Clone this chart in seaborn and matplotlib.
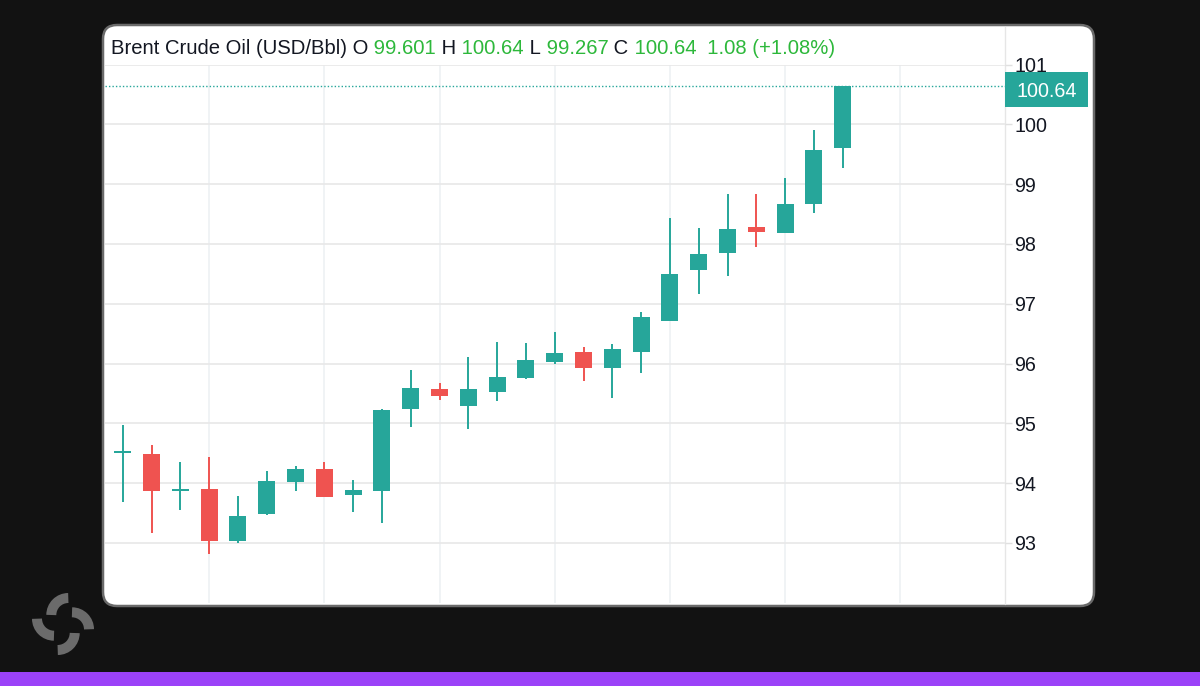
import matplotlib
matplotlib.use("Agg")
import matplotlib.pyplot as plt
import matplotlib.transforms as mtransforms
from matplotlib.patches import FancyBboxPatch, Rectangle, Arc
import numpy as np
import seaborn as sns

# ---------------- data ----------------
title_text = "Brent Crude Oil (USD/Bbl)"
opens = [94.50, 94.49, 93.87, 93.90, 93.03, 93.48, 94.02, 94.24, 93.80, 93.87,
         95.24, 95.57, 95.29, 95.53, 95.76, 96.03, 96.20, 95.92, 96.19, 96.71,
         97.56, 97.84, 98.28, 98.19, 98.67, 99.601]
highs = [94.97, 94.63, 94.35, 94.44, 93.78, 94.20, 94.28, 94.35, 94.05, 95.24,
         95.89, 95.67, 96.11, 96.36, 96.34, 96.52, 96.27, 96.32, 96.86, 98.44,
         98.26, 98.83, 98.83, 99.10, 99.91, 100.64]
lows = [93.69, 93.17, 93.55, 92.81, 92.99, 93.46, 93.87, 93.76, 93.52, 93.33,
        94.94, 95.39, 94.90, 95.37, 95.74, 96.00, 95.71, 95.42, 95.84, 96.71,
        97.16, 97.47, 97.94, 98.18, 98.51, 99.267]
closes = [94.53, 93.87, 93.90, 93.03, 93.45, 94.04, 94.24, 93.77, 93.88, 95.23,
          95.59, 95.46, 95.57, 95.77, 96.06, 96.18, 95.92, 96.25, 96.77, 97.49,
          97.83, 98.25, 98.20, 98.66, 99.57, 100.64]
y_ticks = [93, 94, 95, 96, 97, 98, 99, 100, 101]
last_change = "1.08"
last_change_pct = "(+1.08%)"

UP = "#26A69A"
DOWN = "#EF5350"
GREEN_TXT = "#2DB83B"
DARK_TXT = "#131722"

sns.set_theme(style="white")
plt.rcParams["font.family"] = ["Liberation Sans", "DejaVu Sans"]

fig = plt.figure(figsize=(12, 6.86), dpi=100, facecolor="#121212")

# ---------- background (pixel coords, y up) ----------
bg = fig.add_axes([0, 0, 1, 1], zorder=0)
bg.set_xlim(0, 1200)
bg.set_ylim(0, 686)
bg.axis("off")
bg.add_patch(Rectangle((0, 0), 1200, 14.5, color="#9B42F8", lw=0))
bg.add_patch(FancyBboxPatch((103, 80), 991, 581,
                            boxstyle="round,pad=0,rounding_size=14",
                            facecolor="white", edgecolor="#6a6a6a", lw=1.8))
bg.plot([1005, 1005], [82, 659], color="#E6E6E6", lw=1.0)

# logo: pinwheel of four thick arcs
cx, cy, r = 63, 62, 17
offs = [((5.3, 9), 90, 180), ((9, -5.3), 0, 90),
        ((-5.3, -9), 270, 360), ((-9, 5.3), 180, 270)]
for (dx, dy), t1, t2 in offs:
    bg.add_patch(Arc((cx + dx, cy + dy), 2 * r, 2 * r, theta1=t1, theta2=t2,
                     color="#6b6b6b", lw=7.2, capstyle="butt"))

# ---------- main chart ----------
ax = fig.add_axes([105 / 1200, 1 - 602.7 / 686, 900 / 1200, (602.7 - 64.5) / 686],
                  zorder=1)
ax.set_facecolor("none")
x = np.arange(len(opens))
o = np.array(opens); c = np.array(closes)
h = np.array(highs); l = np.array(lows)
cols = [UP if ci >= oi else DOWN for oi, ci in zip(o, c)]

ax.vlines(x, l, h, colors=cols, lw=1.4, zorder=2)
ax.bar(x, np.abs(c - o), bottom=np.minimum(o, c), width=0.59, color=cols,
       lw=0, zorder=3)

ax.set_xlim(-0.615, 30.635)
ax.set_ylim(92.0, 101.0)
ax.set_xticks(np.arange(3, 30, 4))
ax.set_yticks(y_ticks)
ax.set_yticklabels([str(v) for v in y_ticks])
ax.yaxis.tick_right()
ax.tick_params(axis="x", length=0, labelbottom=False)
ax.tick_params(axis="y", length=5, width=1, color="#E0E0E0", pad=1.5,
               labelsize=14.2, labelcolor=DARK_TXT, left=False, right=True)
ax.grid(axis="y", color="#E8E8E8", lw=1.2)
ax.grid(axis="x", color="#EEF1F4", lw=1.2)
ax.set_axisbelow(True)
for s in ax.spines.values():
    s.set_visible(False)

# last price line + label
last = closes[-1]
ax.axhline(last, color=UP, lw=1.0, ls=(0, (1, 1.5)), zorder=1)
tr = mtransforms.blended_transform_factory(ax.transAxes, ax.transData)
bw = 83 / 900
bh = 35 / 59.8
ax.add_patch(Rectangle((1.0, last - bh / 2 - 0.05), bw, bh, transform=tr,
                       color=UP, lw=0, clip_on=False, zorder=5))
ax.text(1.0 + bw / 2, last - 0.05, f"{last:.2f}", transform=tr, ha="center",
        va="center_baseline", color="white", fontsize=14.2, zorder=6)

# header with coloured segments
segments = [
    (title_text + " O", DARK_TXT), (f" {opens[-1]:.3f}", GREEN_TXT),
    (" H", DARK_TXT), (f" {highs[-1]:.2f}", GREEN_TXT),
    (" L", DARK_TXT), (f" {lows[-1]:.3f}", GREEN_TXT),
    (" C", DARK_TXT), (f" {closes[-1]:.2f}", GREEN_TXT),
    (f"  {last_change} {last_change_pct}", GREEN_TXT),
]
renderer = fig.canvas.get_renderer()
xpos = 111 / 1200
ypos = 1 - 54 / 686
for s, col in segments:
    t = fig.text(xpos, ypos, s, color=col, fontsize=14.6, va="baseline",
                 ha="left", zorder=10)
    bb = t.get_window_extent(renderer)
    xpos = bb.x1 / fig.bbox.width

fig.savefig("out.png", dpi=100, facecolor=fig.get_facecolor())
